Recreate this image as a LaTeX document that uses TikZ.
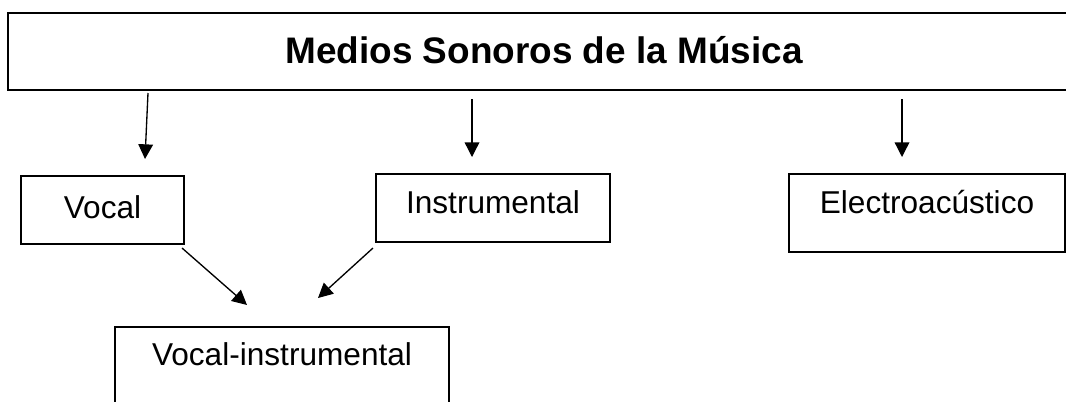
\documentclass[tikz,border=0pt]{standalone}
\usepackage{fontspec}
\setmainfont{Liberation Sans}
\usetikzlibrary{arrows.meta}
\tikzset{
  box/.style={draw=black, line width=1.4pt, fill=white, inner sep=0pt, align=center, font=\fontsize{23.7pt}{26pt}\selectfont},
  titlebox/.style={box, font=\fontsize{27.7pt}{30pt}\selectfont\bfseries},
  conn/.style={line width=1pt, -{Triangle[length=11pt,width=11pt]}}
}
\begin{document}
\begin{tikzpicture}[x=0.75pt,y=-0.75pt]
\useasboundingbox (0,0) rectangle (1066,401);
\clip (0,0) rectangle (1066,401);
\fill[white] (0,0) rectangle (1066,401);
% title box: x 8..1080, y 13..90, baseline 63
\node[titlebox, anchor=base, minimum width=1072*0.75pt, text height=50*0.75pt, text depth=27*0.75pt] (title) at (544,63) {Medios Sonoros de la Música};
% Vocal: x 21..184, y 176..244, baseline 218
\node[box, anchor=base, minimum width=163*0.75pt, text height=42*0.75pt, text depth=26*0.75pt] (vocal) at (102.5,218) {Vocal};
% Instrumental: x 376..610, y 174..242, baseline 213
\node[box, anchor=base, minimum width=234*0.75pt, text height=39*0.75pt, text depth=29*0.75pt] (instr) at (493,213) {Instrumental};
% Electroacustico: x 789..1065, y 174..252, baseline 213
\node[box, anchor=base, minimum width=276*0.75pt, text height=39*0.75pt, text depth=39*0.75pt] (electro) at (927,213) {Electroacústico};
% Vocal-instrumental: x 115..449, y 327..430, baseline 365
\node[box, anchor=base, minimum width=334*0.75pt, text height=38*0.75pt, text depth=65*0.75pt] (vocinstr) at (282,365) {Vocal-instrumental};
% connector end points
\coordinate (a1s) at (148,93);  \coordinate (a1e) at (145,159);
\coordinate (a2s) at (472,99);  \coordinate (a2e) at (472,157);
\coordinate (a3s) at (902,99);  \coordinate (a3e) at (902,157);
\coordinate (a4s) at (182,248); \coordinate (a4e) at (247,305);
\coordinate (a5s) at (373,248); \coordinate (a5e) at (318,298);
\draw[conn] (a1s) -- (a1e);
\draw[conn] (a2s) -- (a2e);
\draw[conn] (a3s) -- (a3e);
\draw[conn] (a4s) -- (a4e);
\draw[conn] (a5s) -- (a5e);
\end{tikzpicture}
\end{document}
